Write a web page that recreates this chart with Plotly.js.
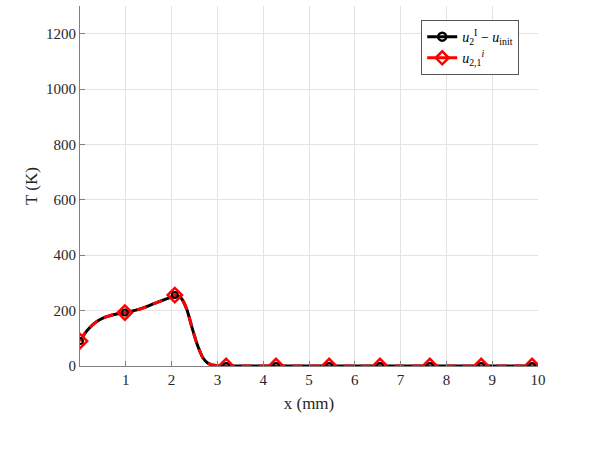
<!DOCTYPE html>
<html>
<head>
<meta charset="utf-8">
<script src="https://cdn.plot.ly/plotly-3.0.1.min.js"></script>
<style>html,body{margin:0;padding:0;background:#fff;}#chart{width:598px;height:469px;}</style>
</head>
<body>
<div id="chart"></div>
<script>
// Curve samples (x in mm, T in K)
const curveX = [0, 0.1, 0.2, 0.3, 0.4, 0.5, 0.6, 0.7, 0.8, 0.98, 1.2, 1.4, 1.6, 1.8, 2.0, 2.07, 2.15, 2.22, 2.33, 2.44, 2.55, 2.62, 2.69, 2.78, 2.88, 3.0, 3.1, 3.19, 4.28, 5.44, 6.55, 7.64, 8.76, 9.87, 10];
const curveT = [90, 116, 136, 152, 164, 173, 179, 184, 188, 193, 201, 211, 224, 237, 250, 256, 252, 243, 205, 142, 82, 52, 28, 12, 4, 1, 0, 0, 0, 0, 0, 0, 0, 0, 0];
// Marker positions
const markX = [0, 0.98, 2.07, 3.19, 4.28, 5.44, 6.55, 7.64, 8.76, 9.87];
const markT = [90, 193, 256, 0, 0, 0, 0, 0, 0, 0];
const xTicks = [1, 2, 3, 4, 5, 6, 7, 8, 9, 10];
const yTicks = [0, 200, 400, 600, 800, 1000, 1200];
const name1 = '<i>u</i><sub>2</sub><sup>I</sup> − <i>u</i><sub>init</sub>';
const name2 = '<i>u</i><sub>2,1</sub><sup><i>i</i></sup>';

const FONT = 'Liberation Serif, Times New Roman, serif';
const traces = [
  {x: curveX, y: curveT, mode: 'lines', line: {color: '#000', width: 3, shape: 'spline'}, showlegend: false, hoverinfo: 'skip'},
  {x: curveX, y: curveT, mode: 'lines', line: {color: '#ff0000', width: 3, dash: '10px,7px', shape: 'spline'}, showlegend: false, hoverinfo: 'skip'},
  {x: markX, y: markT, mode: 'markers', marker: {symbol: 'circle-open', size: 6, color: '#000', line: {width: 2, color: '#000'}}, showlegend: false},
  {x: markX, y: markT, mode: 'markers', marker: {symbol: 'diamond-open', size: 11, color: '#ff0000', line: {width: 2.5, color: '#ff0000'}}, showlegend: false},
  {x: [null], y: [null], name: name1, mode: 'lines+markers', line: {color: '#000', width: 3}, marker: {symbol: 'circle-open', size: 8, color: '#000', line: {width: 2.5, color: '#000'}}},
  {x: [null], y: [null], name: name2, mode: 'lines+markers', line: {color: '#ff0000', width: 3}, marker: {symbol: 'diamond-open', size: 10, color: '#ff0000', line: {width: 2.5, color: '#ff0000'}}}
];

const axisCommon = {
  showline: true, linecolor: '#808080', linewidth: 1,
  ticks: 'inside', ticklen: 5, tickcolor: '#808080',
  showgrid: true, gridcolor: '#e3e3e3', gridwidth: 1,
  zeroline: false, mirror: false,
  tickfont: {family: FONT, size: 15, color: '#262626'}
};

const layout = {
  width: 598, height: 469,
  margin: {l: 80, r: 60, t: 6, b: 103},
  paper_bgcolor: '#fff', plot_bgcolor: '#fff',
  font: {family: FONT, color: '#262626'},
  xaxis: Object.assign({}, axisCommon, {
    range: [0, 10], tickvals: xTicks, ticktext: xTicks.map(String),
    title: {text: 'x (mm)', font: {family: FONT, size: 17, color: '#262626'}, standoff: 10}
  }),
  yaxis: Object.assign({}, axisCommon, {
    range: [0, 1300], tickvals: yTicks, ticktext: yTicks.map(String),
    title: {text: 'T (K)', font: {family: FONT, size: 17, color: '#262626'}, standoff: 4}
  }),
  legend: {
    x: 0.745, y: 0.961, xanchor: 'left', yanchor: 'top',
    bgcolor: '#fff', bordercolor: '#555', borderwidth: 1,
    font: {family: FONT, size: 14, color: '#000'},
    tracegroupgap: 0, itemwidth: 30
  },
  showlegend: true
};

Plotly.newPlot('chart', traces, layout, {displayModeBar: false, staticPlot: true});
</script>
</body>
</html>
